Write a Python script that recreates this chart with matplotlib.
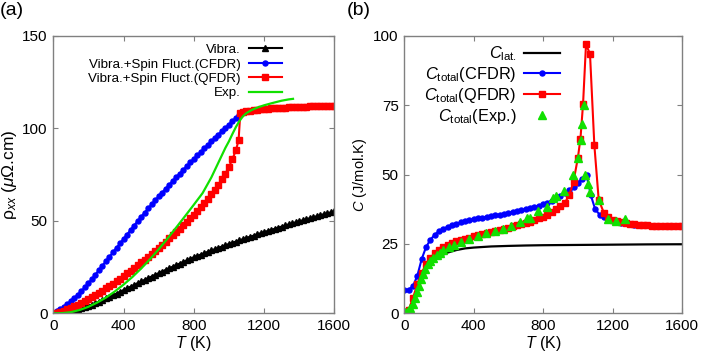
import numpy as np
import matplotlib
matplotlib.use('Agg')
import matplotlib.pyplot as plt

plt.rcParams['font.family'] = ['Liberation Sans', 'DejaVu Sans']
plt.rcParams['mathtext.fontset'] = 'custom'
plt.rcParams['mathtext.rm'] = 'Liberation Sans'
plt.rcParams['mathtext.it'] = 'Liberation Sans:italic'
plt.rcParams['mathtext.bf'] = 'Liberation Sans:bold'

# ---- panel (a): resistivity ----
t_a = np.arange(0, 1601, 20)
rho_vibra = [0.0, 0.05, 0.15, 0.35, 0.65, 1.0, 1.5, 2.1, 2.7, 3.3,
             4.0, 4.7, 5.5, 6.3, 7.1, 8.0, 8.9, 9.8, 10.7, 11.6,
             12.6, 13.5, 14.4, 15.3, 16.3, 17.2, 18.1, 19.0, 19.9, 20.8,
             21.7, 22.6, 23.5, 24.4, 25.2, 26.1, 26.9, 27.8, 28.6, 29.5,
             30.3, 31.0, 31.8, 32.5, 33.3, 34.0, 34.7, 35.4, 36.1, 36.8,
             37.5, 38.2, 38.8, 39.5, 40.1, 40.8, 41.4, 42.0, 42.7, 43.3,
             43.9, 44.5, 45.1, 45.7, 46.3, 46.9, 47.5, 48.1, 48.7, 49.2,
             49.8, 50.3, 50.9, 51.4, 52.0, 52.5, 53.0, 53.6, 54.1, 54.6,
             55.1]

t_cfdr_a = np.arange(0, 1061, 20)
rho_cfdr = [0.0, 1.0, 2.2, 3.5, 5.0, 6.6, 8.3, 10.1, 12.0, 14.0,
            16.2, 18.5, 20.9, 23.4, 25.8, 28.2, 30.6, 33.0, 35.4, 37.8,
            40.2, 42.6, 45.0, 47.4, 49.8, 52.1, 54.4, 56.7, 58.9, 61.1,
            63.2, 65.3, 67.4, 69.5, 71.6, 73.6, 75.6, 77.6, 79.6, 81.6,
            83.5, 85.4, 87.3, 89.2, 91.1, 93.0, 94.9, 96.7, 98.5, 100.3,
            102.1, 103.9, 105.7, 107.5]

t_qfdr_a = list(range(0, 1041, 20)) + [1055, 1065] + list(range(1080, 1601, 20))
rho_qfdr = [0.0, 0.3, 0.8, 1.4, 2.2, 3.0, 3.8, 4.7, 5.7, 6.7,
            7.7, 8.8, 9.9, 11.1, 12.3, 13.5, 14.8, 16.1, 17.4, 18.8,
            20.2, 21.6, 23.0, 24.5, 26.0, 27.5, 29.0, 30.6, 32.2, 33.8,
            35.4, 37.1, 38.8, 40.5, 42.2, 44.0, 45.8, 47.6, 49.5, 51.4,
            53.4, 55.4, 57.4, 59.6, 61.9, 64.3, 66.8, 69.5, 72.4, 75.6,
            79.2, 83.3, 88.3, 93.5, 108.6,
            109.0, 109.3, 109.6, 109.9, 110.1, 110.3, 110.5, 110.7, 110.8, 111.0,
            111.1, 111.2, 111.3, 111.4, 111.5, 111.6, 111.7, 111.8, 111.8, 111.9,
            112.0, 112.0, 112.1, 112.1, 112.2, 112.2, 112.3]

t_exp_a = [0, 50, 100, 150, 200, 250, 300, 350, 400, 450, 500, 550, 600, 650,
           700, 750, 800, 850, 900, 920, 940, 960, 980, 1000, 1020, 1040, 1060,
           1080, 1100, 1130, 1160, 1200, 1250, 1300, 1340, 1365]
rho_exp = [0.0, 0.1, 0.6, 1.8, 3.5, 5.8, 8.5, 11.8, 15.5, 19.6, 24.2, 29.2, 34.6, 40.4,
           46.4, 52.5, 58.7, 65.0, 73.5, 77.5, 81.5, 85.5, 89.5, 93.0, 97.0, 100.8, 104.0,
           106.6, 108.3, 110.0, 111.2, 112.5, 113.8, 115.0, 115.7, 116.0]

# ---- panel (b): specific heat ----
t_lat = [0, 25, 50, 75, 100, 125, 150, 175, 200, 250, 300, 350, 400, 500,
         600, 700, 800, 1000, 1200, 1400, 1600]
c_lat = [0.0, 1.0, 4.5, 9.0, 12.8, 15.6, 17.7, 19.2, 20.4, 21.9, 22.8, 23.4, 23.7, 24.1,
         24.3, 24.45, 24.55, 24.65, 24.75, 24.85, 24.9]

t_cfdr_b = np.arange(0, 1601, 25)
c_cfdr = [8.3, 8.5, 9.8, 13.5, 19.5, 23.8, 26.5, 28.3, 29.6, 30.5,
          31.2, 31.8, 32.3, 32.8, 33.2, 33.6, 33.9, 34.2, 34.5, 34.8,
          35.0, 35.3, 35.6, 35.9, 36.2, 36.5, 36.8, 37.1, 37.5, 37.9,
          38.3, 38.8, 39.3, 39.9, 40.6, 41.4, 42.3, 43.3, 44.4, 45.6,
          47.0, 48.6, 49.9, 42.5, 37.5, 35.6, 34.6, 33.9, 33.4, 33.0,
          32.7, 32.4, 32.2, 32.0, 31.9, 31.8, 31.7, 31.65, 31.6, 31.55,
          31.5, 31.5, 31.5, 31.5, 31.5]

t_qfdr_b = (list(range(0, 951, 25)) + [975, 1000, 1015, 1030, 1047, 1070, 1095, 1120, 1150]
            + list(range(1175, 1601, 25)))
c_qfdr = [0.0, 1.2, 5.5, 10.5, 14.5, 17.8, 20.0, 21.6, 22.8, 23.8,
          24.6, 25.3, 25.9, 26.4, 26.9, 27.3, 27.7, 28.1, 28.5, 28.9,
          29.3, 29.7, 30.1, 30.5, 30.9, 31.3, 31.7, 32.1, 32.6, 33.1,
          33.6, 34.2, 34.9, 35.6, 36.5, 37.5, 38.6, 39.9, 42.5,
          47.5, 56.0, 63.0, 75.5, 97.0, 93.5, 60.7, 41.0, 36.2,
          34.6, 33.8, 33.2, 32.8, 32.5, 32.3, 32.1, 31.9, 31.8, 31.7,
          31.6, 31.6, 31.5, 31.5, 31.5, 31.4, 31.4, 31.4]

t_exp_b = [4, 20, 35, 48, 60, 72, 84, 96, 108, 120, 135, 150, 167, 186, 206, 225, 255,
           288, 327, 375, 423, 471, 520, 567, 613, 668, 705, 722, 768, 820, 855, 872,
           920, 970, 999, 1016, 1026, 1033, 1041, 1056, 1070, 1122, 1171, 1219, 1271]
c_exp = [0.3, 0.8, 1.8, 3.5, 5.5, 7.8, 10.0, 12.2, 14.2, 16.0, 17.6, 18.9, 20.0, 21.0,
         21.9, 22.8, 23.8, 24.8, 25.6, 26.9, 27.7, 28.8, 29.6, 30.4, 31.3, 33.0, 34.3,
         34.5, 36.9, 38.5, 41.5, 42.3, 44.0, 49.7, 55.9, 62.5, 68.2, 75.2, 49.7, 46.7,
         43.7, 40.9, 33.9, 33.4, 33.9]

BLUE = '#0000ff'
RED = '#ff0000'
GREEN = '#11e000'
FRAME = '#808080'

fig = plt.figure(figsize=(7.02, 3.55), dpi=100)
ax1 = fig.add_axes([0.0759, 0.1175, 0.4003, 0.7811])
ax2 = fig.add_axes([0.5759, 0.1175, 0.3956, 0.7811])

ax1.plot(t_a, rho_vibra, '-', color='black', lw=1.5, marker='^', ms=5, label='Vibra.')
ax1.plot(t_cfdr_a, rho_cfdr, '-', color=BLUE, lw=1.5, marker='o', ms=3.6,
         label='Vibra.+Spin Fluct.(CFDR)')
ax1.plot(t_qfdr_a, rho_qfdr, '-', color=RED, lw=1.5, marker='s', ms=4.0,
         label='Vibra.+Spin Fluct.(QFDR)')
ax1.plot(t_exp_a, rho_exp, '-', color=GREEN, lw=1.6, label='Exp.')

ax2.plot(t_lat, c_lat, '-', color='black', lw=1.6, label='$C_{\\mathrm{lat.}}$')
ax2.plot(t_cfdr_b, c_cfdr, '-', color=BLUE, lw=1.5, marker='o', ms=3.6,
         label='$C_{\\mathrm{total}}$(CFDR)')
ax2.plot(t_qfdr_b, c_qfdr, '-', color=RED, lw=1.5, marker='s', ms=4.2,
         label='$C_{\\mathrm{total}}$(QFDR)')
ax2.plot(t_exp_b, c_exp, '^', color=GREEN, ms=6, ls='none',
         label='$C_{\\mathrm{total}}$(Exp.)')

for ax in (ax1, ax2):
    ax.set_xlim(0, 1600)
    ax.set_xticks([0, 400, 800, 1200, 1600])
    ax.tick_params(direction='in', top=True, right=True, length=3.5, width=0.8,
                   color=FRAME, labelsize=11, pad=4)
    for s in ax.spines.values():
        s.set_color(FRAME)
        s.set_linewidth(1.0)
    ax.set_xlabel('$T$ (K)', fontsize=11.5, labelpad=1)

ax1.set_ylim(0, 150)
ax1.set_yticks([0, 50, 100, 150])
ax1.set_ylabel('ρ$_{xx}$ ($\\mu$Ω.cm)', fontsize=12.5, labelpad=2)

ax2.set_ylim(0, 100)
ax2.set_yticks([0, 25, 50, 75, 100])
ax2.set_ylabel('$C$ (J/mol.K)', fontsize=10.5, labelpad=3)

ax1.legend(loc='upper right', bbox_to_anchor=(0.814, 0.972), frameon=False,
           markerfirst=False, numpoints=1, fontsize=9.6, handlelength=2.5,
           handletextpad=0.6, labelspacing=0.16, borderpad=0, borderaxespad=0)
ax2.legend(loc='upper right', bbox_to_anchor=(0.561, 0.97), frameon=False,
           markerfirst=False, numpoints=1, fontsize=11.8, handlelength=2.2,
           handletextpad=0.45, labelspacing=0.12, borderpad=0, borderaxespad=0)

fig.text(0.0, 0.995, '(a)', fontsize=14, ha='left', va='top')
fig.text(0.494, 0.995, '(b)', fontsize=14, ha='left', va='top')

fig.savefig('out.png', dpi=100)
